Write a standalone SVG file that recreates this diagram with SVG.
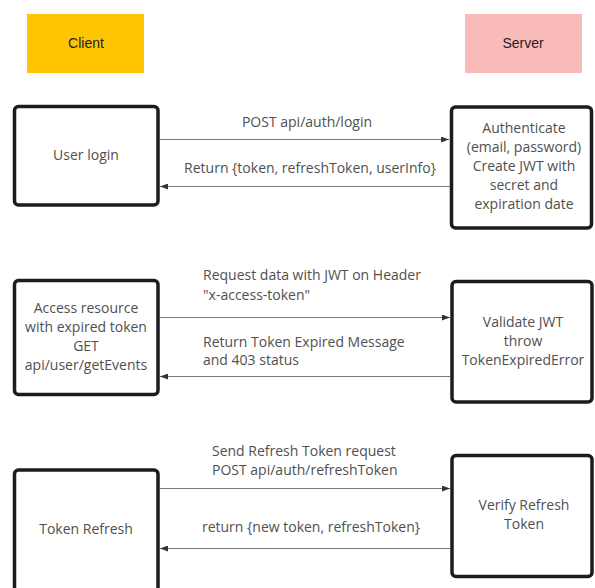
<svg xmlns="http://www.w3.org/2000/svg" width="595" height="588" viewBox="0 0 595 588">
  <defs>
    <marker id="arrow" viewBox="0 0 8 6" refX="8" refY="3" markerWidth="8" markerHeight="6" markerUnits="userSpaceOnUse" orient="auto">
      <path d="M0,0 L8,3 L0,6 Z" fill="#333"/>
    </marker>
    <style>
      .box { fill: #ffffff; stroke: #1c1c1c; stroke-width: 3.5; }
      .txt { font-family: "Open Sans", "Noto Sans", sans-serif; font-size: 14px; fill: #505050; }
      .mid { text-anchor: middle; }
      .head { font-family: "Liberation Sans", Arial, sans-serif; font-size: 14px; fill: #222222; text-anchor: middle; }
      .link { stroke: #7a7a7a; stroke-width: 1; fill: none; marker-end: url(#arrow); }
    </style>
  </defs>
  <rect width="595" height="588" fill="#ffffff"/>

  <!-- lane headers -->
  <g id="client-header">
    <rect x="27" y="14" width="117" height="59" fill="#ffc502"/>
    <text class="head" x="86" y="48">Client</text>
  </g>
  <g id="server-header">
    <rect x="465" y="14" width="117" height="59" fill="#f9baba"/>
    <text class="head" x="523" y="48">Server</text>
  </g>

  <!-- step 1: login -->
  <g id="user-login">
    <rect class="box" x="14.5" y="106.5" width="143.5" height="98.5" rx="4"/>
    <text class="txt mid" x="86" y="160">User login</text>
  </g>
  <g id="authenticate">
    <rect class="box" x="451.5" y="107" width="140" height="121" rx="4"/>
    <text class="txt mid" x="524" y="133">Authenticate</text>
    <text class="txt mid" x="524" y="152">(email, password)</text>
    <text class="txt mid" x="524" y="171">Create JWT with</text>
    <text class="txt mid" x="524" y="190">secret and</text>
    <text class="txt mid" x="524" y="209">expiration date</text>
  </g>

  <!-- step 2: expired access -->
  <g id="access-resource">
    <rect class="box" x="14.5" y="280.5" width="143.5" height="114" rx="4"/>
    <text class="txt mid" x="86" y="313">Access resource</text>
    <text class="txt mid" x="86" y="332">with expired token</text>
    <text class="txt mid" x="86" y="351">GET</text>
    <text class="txt mid" x="86" y="370">api/user/getEvents</text>
  </g>
  <g id="validate-jwt">
    <rect class="box" x="452" y="281.5" width="140" height="120.5" rx="4"/>
    <text class="txt mid" x="523" y="327">Validate JWT</text>
    <text class="txt mid" x="523" y="346">throw</text>
    <text class="txt mid" x="523" y="365">TokenExpiredError</text>
  </g>

  <!-- step 3: refresh -->
  <g id="token-refresh">
    <rect class="box" x="14.5" y="470" width="143.5" height="130" rx="4"/>
    <text class="txt mid" x="86" y="534">Token Refresh</text>
  </g>
  <g id="verify-refresh">
    <rect class="box" x="452" y="455.5" width="140" height="121" rx="4"/>
    <text class="txt mid" x="524" y="510">Verify Refresh</text>
    <text class="txt mid" x="524" y="529">Token</text>
  </g>

  <!-- connectors -->
  <g id="connectors">
    <line class="link" x1="160" y1="139.5" x2="449" y2="139.5"/>
    <line class="link" x1="450" y1="186.5" x2="160" y2="186.5"/>
    <line class="link" x1="160" y1="317.5" x2="450" y2="317.5"/>
    <line class="link" x1="450" y1="376.5" x2="160" y2="376.5"/>
    <line class="link" x1="160" y1="488.5" x2="450" y2="488.5"/>
    <line class="link" x1="450" y1="548.5" x2="160" y2="548.5"/>

    <text class="txt mid" x="307" y="127">POST api/auth/login</text>
    <text class="txt mid" x="310" y="173">Return {token, refreshToken, userInfo}</text>

    <text class="txt" x="203" y="280">Request data with JWT on Header</text>
    <text class="txt" x="203" y="300">"x-access-token"</text>
    <text class="txt" x="203" y="347">Return Token Expired Message</text>
    <text class="txt" x="203" y="365">and 403 status</text>

    <text class="txt" x="212" y="456">Send Refresh Token request</text>
    <text class="txt" x="212" y="475">POST api/auth/refreshToken</text>
    <text class="txt mid" x="311" y="532">return {new token, refreshToken}</text>
  </g>
</svg>
